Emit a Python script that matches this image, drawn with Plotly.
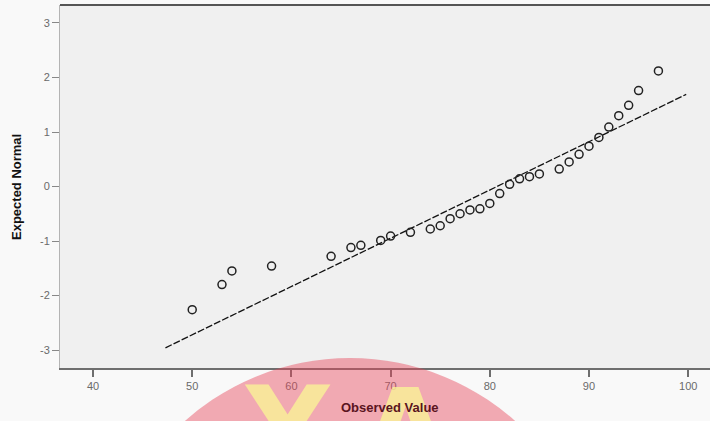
import plotly.graph_objects as go

observed = [50, 53, 54, 58, 64, 66, 67, 69, 70, 72, 74, 75, 76, 77, 78, 79, 80,
            81, 82, 83, 84, 85, 87, 88, 89, 90, 91, 92, 93, 94, 95, 97]
expected = [-2.26, -1.80, -1.55, -1.46, -1.28, -1.12, -1.08, -0.99, -0.91, -0.84,
            -0.78, -0.72, -0.59, -0.50, -0.43, -0.41, -0.31, -0.13, 0.04, 0.14,
            0.18, 0.23, 0.32, 0.45, 0.59, 0.74, 0.90, 1.09, 1.30, 1.49, 1.76, 2.12]

# Reference (expected normal) line endpoints
ref_x = [47.3, 99.8]
ref_y = [-2.96, 1.69]

x_ticks = [40, 50, 60, 70, 80, 90, 100]
y_ticks = [-3, -2, -1, 0, 1, 2, 3]
y_tick_text = ["-3", "-2", "-1", "0", "1", "2", "3"]

fig = go.Figure()
fig.add_trace(go.Scatter(
    x=ref_x, y=ref_y, mode="lines",
    line=dict(color="#111111", width=1.3, dash="7px,2px"),
    hoverinfo="skip", showlegend=False))
fig.add_trace(go.Scatter(
    x=observed, y=expected, mode="markers",
    marker=dict(symbol="circle-open", size=8, color="#222222",
                line=dict(width=1.5, color="#222222")),
    showlegend=False))

tick_font = dict(family="Liberation Sans, Arial, sans-serif", size=11, color="#6a6a6a")

fig.update_xaxes(
    range=[36.67, 102.2], tickvals=x_ticks, showgrid=False, zeroline=False,
    showline=True, linecolor="#6e6e6e", linewidth=2,
    ticks="outside", ticklen=7, tickwidth=2, tickcolor="#6e6e6e",
    tickfont=tick_font)
fig.update_yaxes(
    range=[-3.33, 3.33], tickvals=y_ticks, ticktext=y_tick_text,
    showgrid=False, zeroline=False,
    showline=True, linecolor="#b4b4b4", linewidth=1,
    ticks="outside", ticklen=7, tickwidth=1, tickcolor="#888888",
    tickfont=tick_font)

shapes = [
    # top border of the plot frame
    dict(type="line", xref="paper", yref="paper", x0=0, x1=1, y0=1, y1=1,
         line=dict(color="#555555", width=2), layer="above"),
    # watermark disc
    dict(type="circle", xref="paper", yref="paper",
         x0=0.0646, x1=0.8277, y0=-1.339, y1=0.0275,
         fillcolor="rgba(230,70,90,0.45)", line=dict(width=0), layer="above"),
]

wm_font = dict(family="DejaVu Sans", size=115, color="rgba(250,242,150,0.8)")
annotations = [
    dict(text="<b>Y</b>", xref="paper", yref="paper", x=(287 - 60) / 650,
         y=(368 - 360) / 363, xanchor="center", yanchor="top", showarrow=False,
         font=wm_font),
    dict(text="<b>A</b>", xref="paper", yref="paper", x=(405 - 60) / 650,
         y=(368 - 362) / 363, xanchor="center", yanchor="top", showarrow=False,
         font=wm_font),
    dict(text="<b>Observed Value</b>", xref="paper", yref="paper",
         x=(390 - 60) / 650, y=(368 - 407) / 363, xanchor="center", yanchor="middle",
         showarrow=False,
         font=dict(family="Liberation Sans, Arial, sans-serif", size=13, color="#5a1420")),
    dict(text="<b>Expected Normal</b>", xref="paper", yref="paper",
         x=(17 - 60) / 650, y=(368 - 187) / 363, xanchor="center", yanchor="middle",
         textangle=-90, showarrow=False,
         font=dict(family="Liberation Sans, Arial, sans-serif", size=13, color="#111111")),
]

fig.update_layout(
    width=710, height=421,
    margin=dict(l=60, r=0, t=5, b=53),
    plot_bgcolor="#f0f0f0", paper_bgcolor="#f9f9f9",
    shapes=shapes, annotations=annotations,
)

fig.write_html(
    "out.html",
    config={"displayModeBar": False},
    post_script="document.body.style.margin='0px';document.body.style.overflow='hidden';",
)
